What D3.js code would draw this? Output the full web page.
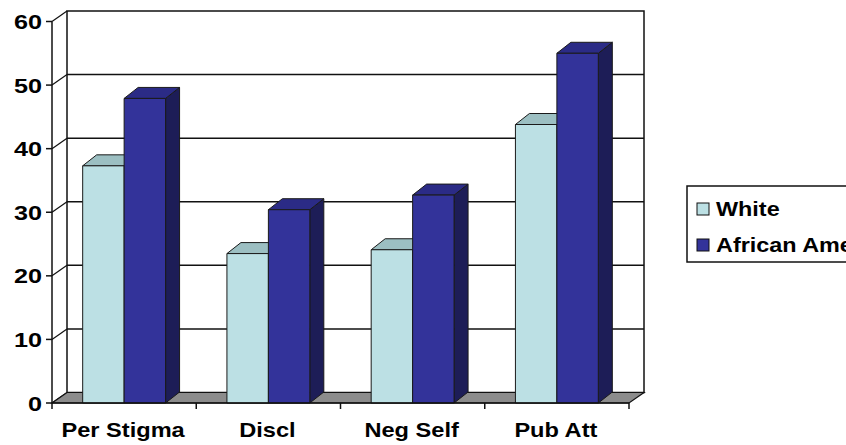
<!DOCTYPE html>
<html>
<head>
<meta charset="utf-8">
<script src="https://cdn.jsdelivr.net/npm/d3@7/dist/d3.min.js"></script>
<style>
  html, body { margin: 0; padding: 0; background: #fff; overflow: hidden; }
  svg { display: block; }
  text { font-family: "Liberation Sans", Arial, sans-serif; font-weight: bold; fill: #000; }
</style>
</head>
<body>
<svg id="chart" width="846" height="445"></svg>
<script>
// Survey scores by group
const categories = ["Per Stigma", "Discl", "Neg Self", "Pub Att"];
const seriesNames = ["White", "African American"];
const whiteValues = [37.3, 23.5, 24.1, 43.8];
const africanAmericanValues = [47.9, 30.4, 32.7, 55.0];
const yTickValues = [0, 10, 20, 30, 40, 50, 60];

const seriesValues = [whiteValues, africanAmericanValues];
const faceColors = [
  { front: "#BCE0E4", top: "#9CBFC2", side: "#8FB3B6" },
  { front: "#33339A", top: "#2B2B86", side: "#1D1D57" }
];

const svg = d3.select("#chart");

// 3-D projection: depth offset of the walls and of the columns
const wallDX = 15, wallDY = 10.5;
const barDX = 14, barDY = 11;

const x = d3.scaleBand().domain(categories).range([52, 629]).padding(0);
const inner = d3.scaleBand().domain(seriesNames).range([0, x.bandwidth()])
  .paddingInner(0).paddingOuter(0.74);
const y = d3.scaleLinear().domain([0, 60]).range([403, 21.5]);

const [x0, x1] = x.range();
const lineColor = "#111";

// wide bold label: text placed at (tx, ty) and stretched horizontally
function label(parent, tx, ty, str, size, stretch, anchor) {
  return parent.append("text")
    .attr("transform", `translate(${tx},${ty}) scale(${stretch},1)`)
    .attr("text-anchor", anchor || "start")
    .style("font-size", size + "px")
    .text(str);
}

// Back wall
svg.append("rect")
  .attr("x", x0 + wallDX).attr("y", y(60) - wallDY)
  .attr("width", x1 - x0).attr("height", y(0) - y(60))
  .attr("fill", "#fff").attr("stroke", lineColor).attr("stroke-width", 1.5);

// Gridlines on back wall and their slants across the side wall
const grid = svg.append("g");
yTickValues.forEach(v => {
  const yy = y(v);
  if (v > 0 && v < 60) {
    grid.append("line")
      .attr("x1", x0 + wallDX).attr("x2", x1 + wallDX)
      .attr("y1", yy - wallDY).attr("y2", yy - wallDY)
      .attr("stroke", lineColor).attr("stroke-width", 1.5);
  }
  grid.append("line")
    .attr("x1", x0).attr("y1", yy)
    .attr("x2", x0 + wallDX).attr("y2", yy - wallDY)
    .attr("stroke", lineColor).attr("stroke-width", 1.2);
});

// Floor
svg.append("path")
  .attr("d", d3.line()([
    [x0, y(0)], [x1, y(0)], [x1 + wallDX, y(0) - wallDY], [x0 + wallDX, y(0) - wallDY]
  ]) + "Z")
  .attr("fill", "#8C8C8C").attr("stroke", lineColor).attr("stroke-width", 1.2);

// Columns
const bars = svg.append("g");
categories.forEach((cat, ci) => {
  seriesNames.forEach((s, si) => {
    const v = seriesValues[si][ci];
    const bx = x(cat) + inner(s);
    const bw = inner.bandwidth();
    const top = y(v), base = y(0);
    const c = faceColors[si];
    const g = bars.append("g").attr("stroke", "#1a1a1a").attr("stroke-width", 1).attr("stroke-linejoin", "round");
    // side face
    g.append("path")
      .attr("d", d3.line()([[bx + bw, base], [bx + bw, top], [bx + bw + barDX, top - barDY], [bx + bw + barDX, base - barDY]]) + "Z")
      .attr("fill", c.side);
    // top face
    g.append("path")
      .attr("d", d3.line()([[bx, top], [bx + barDX, top - barDY], [bx + bw + barDX, top - barDY], [bx + bw, top]]) + "Z")
      .attr("fill", c.top);
    // front face
    g.append("rect")
      .attr("x", bx).attr("y", top).attr("width", bw).attr("height", base - top)
      .attr("fill", c.front);
  });
});

// Value axis (front left edge)
const yAxis = svg.append("g");
yAxis.append("line")
  .attr("x1", x0).attr("x2", x0).attr("y1", y(60)).attr("y2", y(0))
  .attr("stroke", lineColor).attr("stroke-width", 1.5);
yTickValues.forEach(v => {
  yAxis.append("line")
    .attr("x1", x0 - 6).attr("x2", x0).attr("y1", y(v)).attr("y2", y(v))
    .attr("stroke", lineColor).attr("stroke-width", 1.5);
  label(yAxis, 42, y(v) + 7.5, v, 21, 1.2, "end");
});

// Category axis (front bottom edge)
const xAxis = svg.append("g");
xAxis.append("line")
  .attr("x1", x0).attr("x2", x1).attr("y1", y(0)).attr("y2", y(0))
  .attr("stroke", lineColor).attr("stroke-width", 1.5);
const boundaries = categories.map(c => x(c)).concat([x1]);
boundaries.forEach(bx => {
  xAxis.append("line")
    .attr("x1", bx).attr("x2", bx).attr("y1", y(0)).attr("y2", y(0) + 6)
    .attr("stroke", lineColor).attr("stroke-width", 1.5);
});
categories.forEach(cat => {
  label(xAxis, x(cat) + x.bandwidth() / 2 - 1, 437, cat, 20, 1.18, "middle");
});

// Legend
const legend = svg.append("g");
legend.append("rect")
  .attr("x", 687).attr("y", 186).attr("width", 200).attr("height", 76)
  .attr("fill", "#fff").attr("stroke", lineColor).attr("stroke-width", 1.5);
seriesNames.forEach((s, i) => {
  const ly = 203 + i * 36;
  legend.append("rect")
    .attr("x", 697).attr("y", ly).attr("width", 12).attr("height", 12)
    .attr("fill", faceColors[i].front).attr("stroke", lineColor).attr("stroke-width", 1);
  label(legend, 716, ly + 13, s, 20, 1.17, "start");
});
</script>
</body>
</html>
